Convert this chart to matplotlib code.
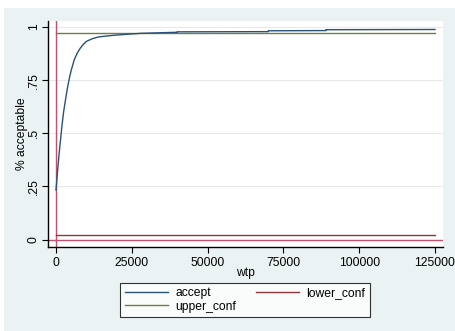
import matplotlib
matplotlib.use("Agg")
import matplotlib.pyplot as plt
from matplotlib.patches import Rectangle

plt.rcParams['font.family'] = ['Liberation Sans', 'DejaVu Sans']

# Acceptability curve by willingness to pay
wtp = [0, 500, 1000, 1500, 2000, 2500, 3000, 3500, 4000, 4500, 5000, 6000,
       7000, 8000, 9000, 10000, 12000, 14000, 17000, 20000, 24000, 28000,
       40000, 40000, 70000, 70000, 89000, 89000, 125000]
accept = [0.233, 0.32, 0.40, 0.47, 0.54, 0.60, 0.645, 0.69, 0.73, 0.765,
          0.795, 0.845, 0.877, 0.900, 0.918, 0.932, 0.945, 0.953, 0.958,
          0.962, 0.966, 0.970, 0.975, 0.977, 0.978, 0.982, 0.983, 0.987, 0.988]
lower_conf = [0.021, 0.021]
upper_conf = [0.970, 0.970]
conf_wtp = [0, 125000]

xticks = [0, 25000, 50000, 75000, 100000, 125000]
yticks = [0, 0.25, 0.5, 0.75, 1]
ytick_labels = ["0", ".25", ".5", ".75", "1"]

W, H = 456, 331
fig = plt.figure(figsize=(W / 100, H / 100), dpi=100)
fig.patch.set_facecolor("white")
fig.add_artist(Rectangle((4 / W, 0), 1, 1 - 8 / H, transform=fig.transFigure,
                         facecolor="#eaf2f3", edgecolor="none", zorder=-10))

ax = fig.add_axes([48 / W, 1 - 247 / H, (443 - 48) / W, (247 - 21) / H])
ax.set_facecolor("white")

ax.axvline(0, color="#c4506e", lw=1.0, zorder=2)
ax.axhline(0, color="#c4506e", lw=1.0, zorder=2)

l1, = ax.plot(wtp, accept, color="#2a5278", lw=1.0, zorder=4, label="accept")
l2, = ax.plot(conf_wtp, lower_conf, color="#90353b", lw=1.0, zorder=3, label="lower_conf")
l3, = ax.plot(conf_wtp, upper_conf, color="#6b8040", lw=1.0, zorder=3, label="upper_conf")

ax.set_xlim(-2640, 127640)
ax.set_ylim(-0.035, 1.028)
ax.set_xticks(xticks)
ax.set_xticklabels([str(t) for t in xticks])
ax.set_yticks(yticks)
ax.set_yticklabels(ytick_labels, rotation=90, va="center")
ax.grid(axis="y", color="#eaeaea", lw=0.8)
ax.set_axisbelow(True)
for s in ("top", "right"):
    ax.spines[s].set_visible(False)
for s in ("left", "bottom"):
    ax.spines[s].set_color("black")
    ax.spines[s].set_linewidth(1.0)
ax.tick_params(direction="out", length=4, width=0.8, labelsize=8.7, pad=3)
ax.tick_params(axis="y", pad=2)

ax.set_xlabel("wtp", fontsize=8.7, labelpad=-1)
ax.set_ylabel("% acceptable", fontsize=8.7, labelpad=0)

leg = fig.legend(handles=[l1, l3, l2], ncol=2, loc="center",
                 bbox_to_anchor=(245 / W, 1 - 300 / H), fontsize=8.7,
                 frameon=True, fancybox=False, handlelength=3.6,
                 columnspacing=1.6, handletextpad=0.6, borderpad=0.35,
                 labelspacing=0.1)
leg.get_frame().set_edgecolor("black")
leg.get_frame().set_linewidth(0.8)

fig.savefig("out.png", dpi=100)
